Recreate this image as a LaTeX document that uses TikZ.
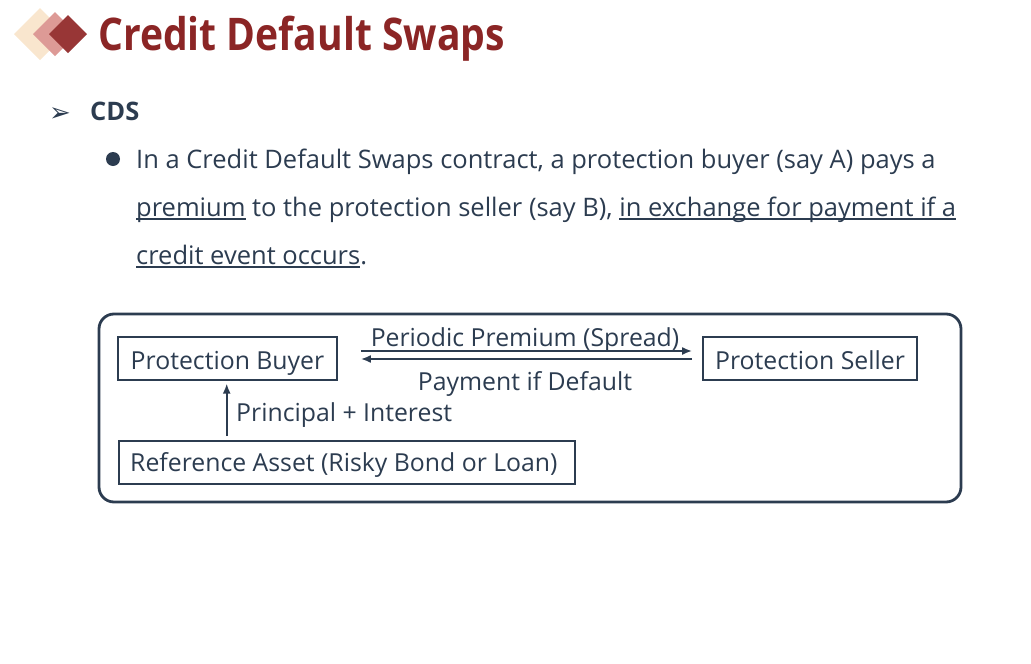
\documentclass[tikz,border=0pt]{standalone}
\usepackage{fontspec}
\setmainfont{Open Sans}
\newfontfamily\symfont{DejaVu Sans}
\usetikzlibrary{arrows.meta}
\definecolor{ink}{RGB}{44,60,80}
\definecolor{titlered}{RGB}{139,37,37}
\definecolor{dpeach}{RGB}{249,230,206}
\definecolor{dpink}{RGB}{221,154,150}
\definecolor{dred}{RGB}{152,54,54}
\newcommand\myul[1]{\setbox0\hbox{#1}\rlap{\rule[-3.5pt]{\wd0}{1.3pt}}\box0\relax}
\begin{document}
\begin{tikzpicture}[x=1pt,y=-1pt,
  every node/.style={text=ink, inner sep=0pt},
  txt/.style={font=\fontsize{24.8}{29}\selectfont},
  body/.style={font=\fontsize{25.5}{30}\selectfont},
  flowbox/.style={draw=ink, line width=1.8pt, txt, text height=24pt, text depth=2.4pt},
  flowarrow/.style={draw=ink, line width=1.8pt, -{Latex[length=10pt,width=8pt]}},
  lbl/.style={txt, anchor=base}]
\useasboundingbox (0,0) rectangle (1031,664);
% logo
\fill[dpeach] (40,8) -- (66,34) -- (40,60) -- (14,34) -- cycle;
\fill[dpink] (55,12) -- (77,34) -- (55,56) -- (33,34) -- cycle;
\fill[dred] (68,15) -- (87,34) -- (68,53) -- (49,34) -- cycle;
\node[anchor=base west, text=titlered, font=\fontsize{45}{54}\selectfont\bfseries] (title) at (98,50) {\scalebox{0.868}[1]{Credit Default Swaps}};
% bullet level 1
\node[anchor=base west, font=\symfont\fontsize{26}{30}\selectfont] (arr) at (49,121) {➢};
\node[anchor=base west, font=\fontsize{25.5}{30}\selectfont\bfseries] (cds) at (90,120) {CDS};
% bullet level 2
\fill[ink] (113,159) circle (7);
\node[anchor=base west, body] (l1) at (136,168) {In a Credit Default Swaps contract, a protection buyer (say A) pays a};
\node[anchor=base west, body] (l2) at (136,216) {\myul{premium} to the protection seller (say B), \myul{in exchange for payment if a}};
\node[anchor=base west, body] (l3) at (136,264) {\myul{credit event occurs}.};
% diagram frame
\draw[ink, line width=2.8pt, rounded corners=15pt] (99,314) rectangle (961,502);
\node[flowbox, minimum width=219pt, minimum height=43pt] (buyer) at (227.5,358.5) {Protection Buyer};
\node[flowbox, minimum width=214pt, minimum height=43pt] (seller) at (810,358.5) {Protection Seller};
\node[flowbox, minimum width=456pt, minimum height=43pt, anchor=north west] (ref) at (118,440) {};
\node[txt, anchor=base west] (reftxt) at (130,471.7) {Reference Asset (Risky Bond or Loan)};
\draw[flowarrow] ([xshift=23pt,yshift=7.5pt]buyer.east) -- ([xshift=-10pt,yshift=7.5pt]seller.west);
\draw[flowarrow] ([xshift=-10pt,yshift=-0.5pt]seller.west) -- ([xshift=23pt,yshift=-0.5pt]buyer.east);
\draw[flowarrow] ([xshift=-0.8pt,yshift=4pt]ref.north -| buyer.south) -- ([xshift=-0.8pt,yshift=-2.7pt]buyer.south);
\node[lbl] (prem) at (525,346.5) {Periodic Premium (Spread)};
\node[lbl] (pay) at (525,390.5) {Payment if Default};
\node[lbl, anchor=base west] (pi) at (236,421.5) {Principal + Interest};
\end{tikzpicture}
\end{document}
